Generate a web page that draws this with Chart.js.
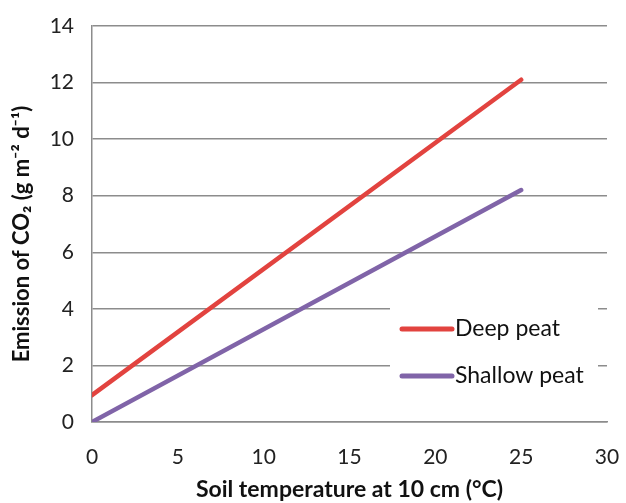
<!DOCTYPE html>
<html>
<head>
<meta charset="utf-8">
<script src="https://cdn.jsdelivr.net/npm/chart.js@4/dist/chart.umd.min.js"></script>
<style>
  html, body { margin: 0; padding: 0; background: #fff; }
  #wrap { width: 626px; height: 503px; position: relative; }
</style>
</head>
<body>
<div id="wrap"><canvas id="c" width="626" height="503"></canvas></div>
<script>
// Soil temperature (°C) at the two ends of each fitted line
const deepTemp = [0, 25];
const deepCO2 = [0.95, 12.1];
const shallowTemp = [0, 25];
const shallowCO2 = [0, 8.2];

const seriesLabels = ['Deep peat', 'Shallow peat'];
const seriesColors = ['#E2433F', '#8064A8'];

const xTitle = 'Soil temperature at 10 cm (°C)';
const yTitle = 'Emission of CO\u2082 (g m\u207B\u00B2 d\u207B\u00B9)';

const FONT = "Lato, 'Open Sans', sans-serif";
const GRID = '#8c8c8c';
const CLEAR = 'rgba(0,0,0,0)';

function pts(xs, ys) { return xs.map((x, i) => ({ x: x, y: ys[i] })); }

// Legend drawn inside the plot area on a white panel
const insideLegend = {
  id: 'insideLegend',
  afterDatasetsDraw(chart) {
    const ctx = chart.ctx;
    const a = chart.chartArea;
    const boxL = a.right - 217, boxT = a.top + 276, boxW = 208, boxH = 92;
    ctx.save();
    ctx.fillStyle = '#fff';
    ctx.fillRect(boxL, boxT, boxW, boxH);
    chart.data.datasets.forEach((ds, i) => {
      const y = boxT + 27 + i * 47;
      ctx.strokeStyle = ds.borderColor;
      ctx.lineWidth = 5;
      ctx.lineCap = 'round';
      ctx.beginPath();
      ctx.moveTo(boxL + 12, y);
      ctx.lineTo(boxL + 62, y);
      ctx.stroke();
      ctx.fillStyle = '#111';
      ctx.font = '23px ' + FONT;
      ctx.textBaseline = 'middle';
      ctx.textAlign = 'left';
      ctx.fillText(ds.label, boxL + 65, y);
    });
    ctx.restore();
  }
};

// Vertical axis title, set a little below the middle of the plot
const yAxisTitle = {
  id: 'yAxisTitle',
  afterDraw(chart) {
    const ctx = chart.ctx;
    const a = chart.chartArea;
    ctx.save();
    ctx.translate(22, (a.top + a.bottom) / 2 + 10);
    ctx.rotate(-Math.PI / 2);
    ctx.fillStyle = '#111';
    ctx.font = 'bold 22px ' + FONT;
    ctx.textAlign = 'center';
    ctx.textBaseline = 'middle';
    ctx.fillText(yTitle, 0, 0);
    ctx.restore();
  }
};

new Chart(document.getElementById('c'), {
  type: 'scatter',
  data: {
    datasets: [
      {
        label: seriesLabels[0],
        data: pts(deepTemp, deepCO2),
        showLine: true,
        borderColor: seriesColors[0],
        backgroundColor: seriesColors[0],
        borderWidth: 4.5,
        borderCapStyle: 'round',
        pointRadius: 0
      },
      {
        label: seriesLabels[1],
        data: pts(shallowTemp, shallowCO2),
        showLine: true,
        borderColor: seriesColors[1],
        backgroundColor: seriesColors[1],
        borderWidth: 4.5,
        borderCapStyle: 'round',
        pointRadius: 0
      }
    ]
  },
  options: {
    responsive: false,
    animation: false,
    layout: { padding: { left: 0, right: 19, top: 26, bottom: 0 } },
    plugins: {
      legend: { display: false },
      tooltip: { enabled: false }
    },
    scales: {
      x: {
        type: 'linear',
        min: 0,
        max: 30,
        ticks: {
          stepSize: 5,
          color: '#222',
          font: { family: FONT, size: 21 },
          padding: 1,
          maxRotation: 0
        },
        grid: {
          display: true,
          drawOnChartArea: false,
          drawTicks: true,
          tickLength: 22,
          color: CLEAR,
          tickColor: CLEAR
        },
        border: { display: true, color: GRID, width: 1.5 },
        title: {
          display: true,
          text: xTitle,
          color: '#111',
          font: { family: FONT, size: 23, weight: 'bold' },
          padding: { top: 0, bottom: 0 }
        },
        afterFit(scale) { scale.height = 81; }
      },
      y: {
        min: 0,
        max: 14,
        ticks: {
          stepSize: 2,
          color: '#222',
          font: { family: FONT, size: 21 },
          padding: 1
        },
        grid: {
          color: GRID,
          lineWidth: 1.5,
          drawTicks: true,
          tickLength: 17,
          tickColor: CLEAR
        },
        border: { display: true, color: GRID, width: 1.5 },
        title: { display: false },
        afterFit(scale) { scale.width = 92; }
      }
    }
  },
  plugins: [insideLegend, yAxisTitle]
});
</script>
</body>
</html>
